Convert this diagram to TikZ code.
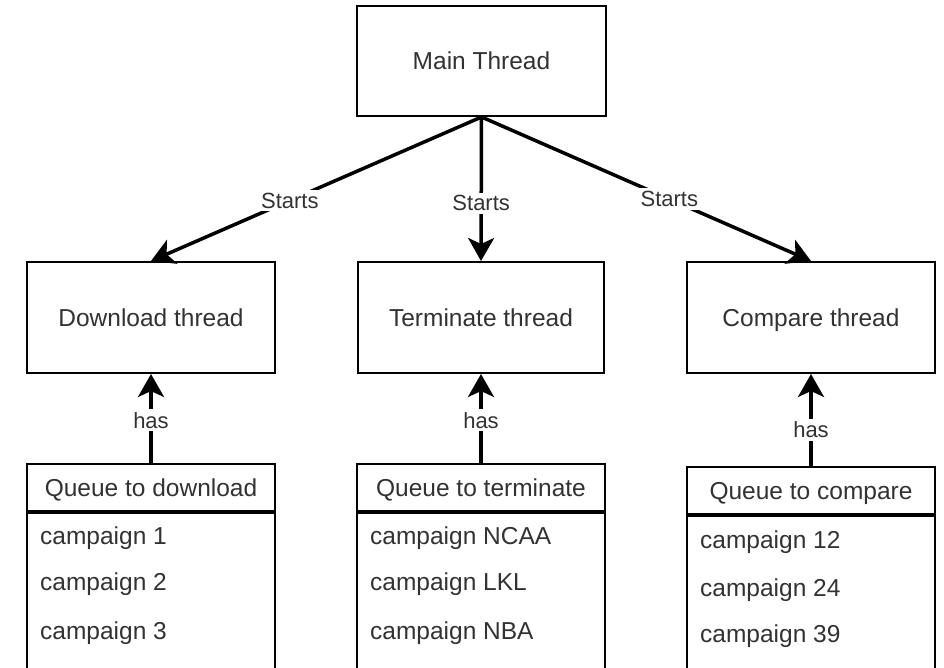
\documentclass[tikz,border=0pt]{standalone}
\usepackage{fontspec}
\setmainfont{Liberation Sans}
\usetikzlibrary{arrows.meta,positioning}
\definecolor{txt}{RGB}{50,50,50}
\tikzset{
  box/.style={draw=black, line width=2pt, rectangle, text=txt, font=\fontsize{24.5}{29}\selectfont, inner sep=0pt, text height=17.6pt, text depth=0pt},
  qbody/.style={draw=black, line width=2pt, rectangle, minimum width=248pt, minimum height=200pt, anchor=north, inner sep=0pt},
  item/.style={anchor=west, text=txt, font=\fontsize{24.5}{29}\selectfont, inner sep=0pt, text height=17.6pt, text depth=0pt},
  conn/.style={line width=3.5pt, -{Stealth[length=23pt 0 0,width=26pt 0 0,inset=6pt 0 0]}},
  lbl/.style={fill=white, text=txt, inner sep=3pt, font=\fontsize{22}{26}\selectfont},
}
\begin{document}
\begin{tikzpicture}[x=1pt,y=-1pt]
\useasboundingbox (0,0) rectangle (944,668);
\clip (0,0) rectangle (944,668);
% thread boxes
\node[box, minimum width=249pt, minimum height=110pt] (main) at (481.5,61) {Main Thread};
\node[box, minimum width=248pt, minimum height=111pt] (dl) at (151,317.5) {Download thread};
\node[box, minimum width=246pt, minimum height=111pt] (tm) at (481,317.5) {Terminate thread};
\node[box, minimum width=248pt, minimum height=111pt] (cp) at (811,317.5) {Compare thread};
% queue headers
\node[box, minimum width=248pt, minimum height=47pt] (qdl) at (151,487.5) {Queue to download};
\node[box, minimum width=248pt, minimum height=47pt] (qtm) at (481,487.5) {Queue to terminate};
\node[box, minimum width=248pt, minimum height=47pt] (qcp) at (811,490.5) {Queue to compare};
% queue bodies
\node[qbody] (bdl) at (qdl.south) {};
\node[qbody] (btm) at (qtm.south) {};
\node[qbody] (bcp) at (qcp.south) {};
% items
\node[item] (d1) at (40,536) {campaign 1};
\node[item] (d2) at (40,582) {campaign 2};
\node[item] (d3) at (40,631) {campaign 3};
\node[item] (t1) at (370,536) {campaign NCAA};
\node[item] (t2) at (370,582) {campaign LKL};
\node[item] (t3) at (370,631) {campaign NBA};
\node[item] (c1) at (700,540) {campaign 12};
\node[item] (c2) at (700,588) {campaign 24};
\node[item] (c3) at (700,634) {campaign 39};
% connectors
\draw[conn] (main.south) -- node[lbl, pos=0.58] {Starts} (dl.north);
\draw[conn] (main.south) -- node[lbl, pos=0.6] {Starts} (tm.north);
\draw[conn] (main.south) -- node[lbl, pos=0.57] {Starts} (cp.north);
\draw[conn] (qdl.north) -- node[lbl, pos=0.48] {has} (dl.south);
\draw[conn] (qtm.north) -- node[lbl, pos=0.48] {has} (tm.south);
\draw[conn] (qcp.north) -- node[lbl, pos=0.39] {has} (cp.south);
\end{tikzpicture}
\end{document}
